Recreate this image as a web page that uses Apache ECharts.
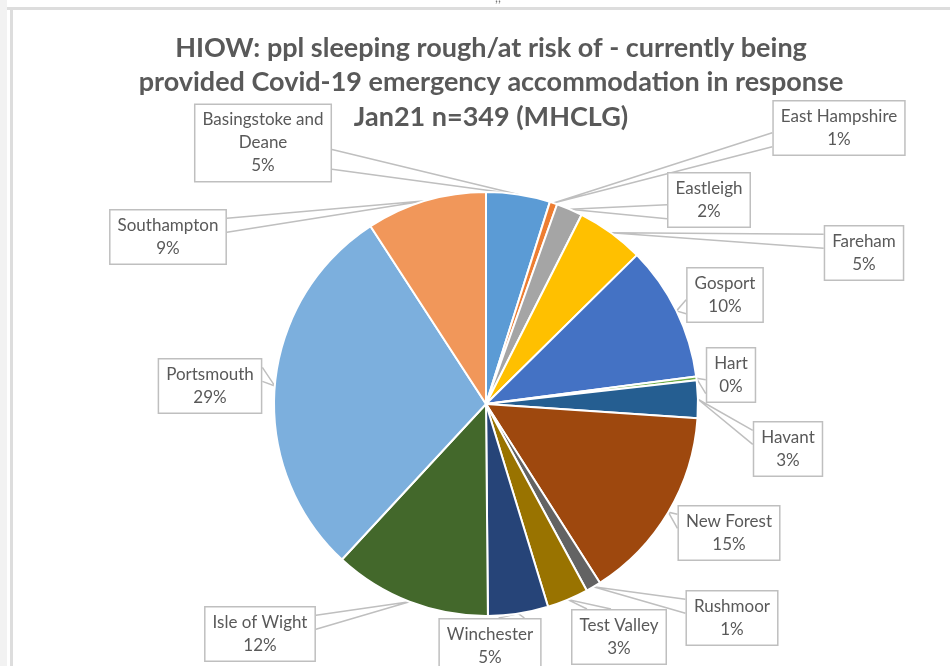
<!DOCTYPE html>
<html>
<head>
<meta charset="utf-8">
<title>HIOW Covid-19 emergency accommodation, Jan21</title>
<script src="https://cdn.jsdelivr.net/npm/echarts@6/dist/echarts.min.js"></script>
<style>
  html, body { margin: 0; padding: 0; background: #ffffff; }
  #chart { width: 950px; height: 666px; }
</style>
</head>
<body>
<div id="chart"></div>
<script>
// Local authority areas, in slice order (clockwise from 12 o'clock)
const categories = [
  'Basingstoke and\nDeane', 'East Hampshire', 'Eastleigh', 'Fareham', 'Gosport',
  'Hart', 'Havant', 'New Forest', 'Rushmoor', 'Test Valley', 'Winchester',
  'Isle of Wight', 'Portsmouth', 'Southampton'
];
// People currently in Covid-19 emergency accommodation (n = 349)
const counts = [17, 2, 7, 18, 36, 1, 10, 52, 4, 11, 16, 42, 101, 32];
// Office-style slice palette
const sliceColors = [
  '#5B9BD5', '#ED7D31', '#A5A5A5', '#FFC000', '#4472C4', '#70AD47', '#255E91',
  '#9E480E', '#636363', '#997300', '#264478', '#43682B', '#7CAFDD', '#F1975A'
];
const titleLines = [
  'HIOW: ppl sleeping rough/at risk of - currently being',
  'provided Covid-19 emergency accommodation in response',
  'Jan21 n=349 (MHCLG)'
];

// Centre of each callout box on the page
const calloutCentres = [
  [263, 143], [839, 128], [709, 200], [864, 253], [725, 295], [731, 375], [788, 449],
  [729, 533], [732, 618], [619, 637], [490, 646], [260, 634], [210, 386], [168, 237]
];

const TEXT = '#595959';
const FRAME = '#BFBFBF';

// Callout wedge: base sits on the box edge facing the tip (rectangular callout geometry)
function calloutPoints(box, tip) {
  const L = box.x, T = box.y, w = box.width, h = box.height;
  const dx = tip[0] - (L + w / 2);
  const dy = tip[1] - (T + h / 2);
  if (Math.abs(dx) * h > Math.abs(dy) * w) {
    const x = dx > 0 ? L + w : L;
    const y1 = T + h * (dy > 0 ? 7 : 2) / 12;
    const y2 = T + h * (dy > 0 ? 10 : 5) / 12;
    return [[x, y1], tip, [x, y2]];
  }
  const y = dy > 0 ? T + h : T;
  const x1 = L + w * (dx > 0 ? 7 : 2) / 12;
  const x2 = L + w * (dx > 0 ? 10 : 5) / 12;
  return [[x1, y], tip, [x2, y]];
}

const PIE_CENTER = [486, 404];
const PIE_RADIUS = 212;
const total = counts.reduce((a, b) => a + b, 0);

function tipFallback(i) {
  let before = 0;
  for (let k = 0; k < i; k++) before += counts[k];
  const a = ((before + counts[i] / 2) / total) * 2 * Math.PI;
  return [PIE_CENTER[0] + PIE_RADIUS * Math.sin(a), PIE_CENTER[1] - PIE_RADIUS * Math.cos(a)];
}

const chart = echarts.init(document.getElementById('chart'), null, { renderer: 'canvas' });

chart.setOption({
  backgroundColor: '#ffffff',
  animation: false,
  title: {
    text: titleLines.join('\n'),
    left: 486,
    top: 26,
    textAlign: 'center',
    textStyle: {
      fontFamily: 'Lato',
      fontWeight: 'bold',
      fontSize: 27,
      lineHeight: 34.5,
      color: TEXT
    }
  },
  graphic: [
    // window frame around the chart area
    { type: 'rect', shape: { x: 0, y: 0, width: 7, height: 666 }, style: { fill: '#F2F2F2' }, silent: true },
    { type: 'rect', shape: { x: 7, y: 7, width: 943, height: 3 }, style: { fill: '#DDDDDD' }, silent: true },
    { type: 'rect', shape: { x: 10, y: 10, width: 3, height: 656 }, style: { fill: '#DDDDDD' }, silent: true },
    { type: 'text', left: 495, top: -9, style: { text: ',,', fill: '#777777', font: '13px Lato' }, silent: true }
  ],
  series: [{
    type: 'pie',
    center: PIE_CENTER,
    radius: PIE_RADIUS,
    startAngle: 90,
    clockwise: true,
    avoidLabelOverlap: false,
    percentPrecision: 0,
    itemStyle: { borderColor: '#ffffff', borderWidth: 2 },
    data: categories.map((name, i) => ({
      name: name,
      value: counts[i],
      itemStyle: { color: sliceColors[i] }
    })),
    label: {
      show: true,
      position: 'outside',
      formatter: '{b}\n{d}%',
      fontFamily: 'Lato',
      fontSize: 17,
      lineHeight: 23,
      color: TEXT,
      backgroundColor: '#ffffff',
      borderColor: FRAME,
      borderWidth: 1.5,
      padding: [4, 7, 3, 7],
      align: 'center'
    },
    labelLine: {
      show: true,
      length: 10,
      length2: 10,
      smooth: false,
      lineStyle: { color: FRAME, width: 1.5 }
    },
    labelLayout: function (p) {
      const c = calloutCentres[p.dataIndex];
      const w = p.labelRect.width, h = p.labelRect.height;
      const box = { x: c[0] - w / 2, y: c[1] - h / 2, width: w, height: h };
      const tip = p.labelLinePoints && p.labelLinePoints[0]
        ? p.labelLinePoints[0].slice()
        : tipFallback(p.dataIndex);
      return {
        x: c[0],
        y: c[1],
        align: 'center',
        verticalAlign: 'middle',
        labelLinePoints: calloutPoints(box, tip)
      };
    }
  }]
});
</script>
</body>
</html>
